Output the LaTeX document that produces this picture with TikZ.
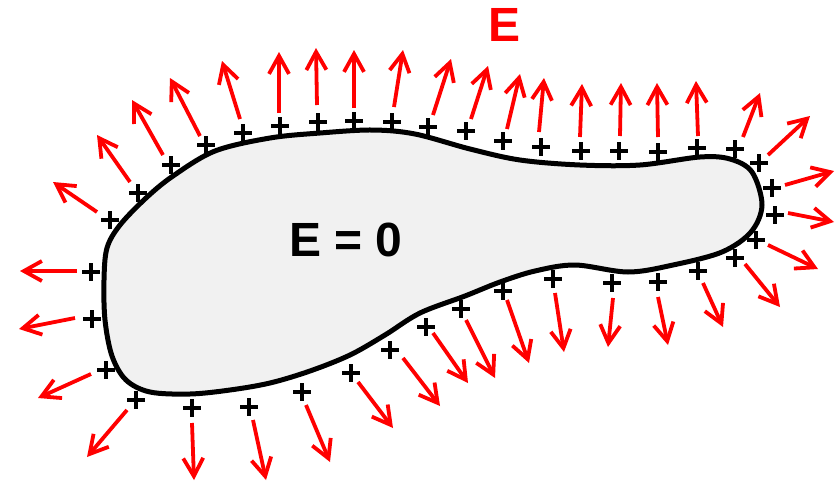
\documentclass[tikz,border=0pt]{standalone}
\usepackage{fontspec}
\setmainfont{Liberation Sans}
\usetikzlibrary{arrows.meta}
\definecolor{metal}{RGB}{241,241,241}

\begin{document}
\begin{tikzpicture}[x=1pt, y=-1pt,
  conductor/.style={draw=black, fill=metal, line width=5pt, line join=round},
  field/.style={draw=red, line width=3.8pt, -{Straight Barb[length=18pt, width=20pt]}},
  bigtext/.style={font=\fontsize{48}{48}\selectfont\bfseries, inner sep=0pt},
  plussign/.pic={\draw[line width=3.2pt] (-9,0) -- (9,0) (0,-9) -- (0,9);}]

  \useasboundingbox (0,0) rectangle (839,485);

  % the conductor
  \draw[conductor] plot[smooth cycle, tension=0.55] coordinates {
    (107,248) (120,225) (146,198) (173,176) (215,151) (270,138) (320,133)
    (372,130) (415,134) (470,149) (520,160) (580,165) (640,165) (700,157)
    (730,159) (752,172) (762,205) (751,232) (722,252) (673,265) (628,272)
    (575,265) (535,271) (500,282) (465,296) (420,313) (385,335)
    (350,355) (310,371) (270,383) (230,390) (190,394) (150,392) (126,380)
    (112,356) (105,320) (104,280)};

  \node[bigtext] (inside) at (346,240) {E = 0};
  \node[bigtext, text=red] (fieldlabel) at (505,25) {E};

  % charges and field lines: charge / tail / head
  \foreach \px/\py/\tx/\ty/\hx/\hy [count=\i] in {
      91/272/77/271/20/271,     110/220/97/212/53/182,
      138/193/130/182/97/135,   171/165/163/155/132/100,
      206/145/200/136/170/78,   243/133/240/119/222/61,
      280/126/279/113/279/52,   318/122/317/105/316/48,
      354/121/354/108/354/50,   392/122/394/107/403/50,
      428/127/433/115/451/59,   466/131/471/119/488/66,
      503/141/507/129/520/74,   541/147/539/132/544/78,
      581/151/580/137/582/84,   619/151/620/136/621/83,
      658/152/658/137/657/83,   697/148/698/136/696/81,
      735/149/743/137/760/93,   759/163/768/155/810/116,
      772/188/785/185/834/171,  775/215/788/213/834/222,
      756/240/768/245/818/269,  735/258/745/264/780/307,
      698/271/703/283/723/327,  658/282/658/297/668/345,
      612/283/613/298/608/347,  553/279/555/293/564/352,
      503/291/507/300/529/363,  461/309/466/320/495/378,
      426/327/433/333/468/383,  390/350/403/358/440/406,
      351/373/358/382/393/428,  302/392/306/405/330/462,
      249/407/253/420/266/480,  192/408/192/423/194/480,
      136/400/127/410/87/457,   106/370/91/374/38/398,
      92/319/75/318/19/329} {
    \pic at (\px,\py) {plussign};
    \coordinate (t\i) at (\tx,\ty);
    \coordinate (h\i) at (\hx,\hy);
    \draw[field] (t\i) -- (h\i);
  }
\end{tikzpicture}
\end{document}
